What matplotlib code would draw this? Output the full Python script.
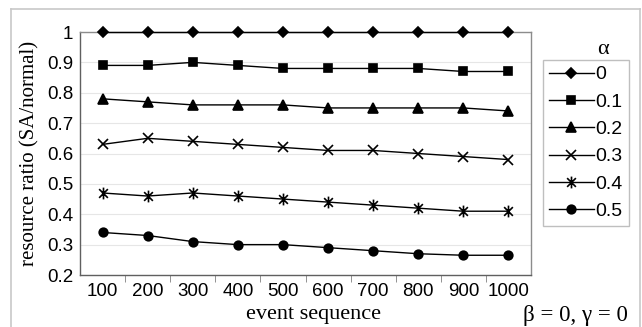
import matplotlib
matplotlib.use("Agg")
import matplotlib.pyplot as plt
from matplotlib.path import Path
from matplotlib.lines import Line2D
import numpy as np

categories = ["100", "200", "300", "400", "500", "600", "700", "800", "900", "1000"]
alpha_labels = ["0", "0.1", "0.2", "0.3", "0.4", "0.5"]
s0 = [1, 1, 1, 1, 1, 1, 1, 1, 1, 1]
s01 = [0.89, 0.89, 0.90, 0.89, 0.88, 0.88, 0.88, 0.88, 0.87, 0.87]
s02 = [0.78, 0.77, 0.76, 0.76, 0.76, 0.75, 0.75, 0.75, 0.75, 0.74]
s03 = [0.63, 0.65, 0.64, 0.63, 0.62, 0.61, 0.61, 0.60, 0.59, 0.58]
s04 = [0.47, 0.46, 0.47, 0.46, 0.45, 0.44, 0.43, 0.42, 0.41, 0.41]
s05 = [0.34, 0.33, 0.31, 0.30, 0.30, 0.29, 0.28, 0.27, 0.265, 0.265]
series = [s0, s01, s02, s03, s04, s05]

star = Path([(-1, -1), (1, 1), (-1, 1), (1, -1), (0, -1.35), (0, 1.35)],
            [Path.MOVETO, Path.LINETO, Path.MOVETO, Path.LINETO, Path.MOVETO, Path.LINETO])
markers = ["D", "s", "^", "x", star, "o"]
msizes = [5.5, 6.2, 7, 6.5, 8.5, 6.2]

fig = plt.figure(figsize=(6.42, 3.27), dpi=100)
ax = fig.add_axes([80/642, 1-275/327, (531-80)/642, (275-32)/327])

x = np.arange(len(categories))
handles = []
for vals, m, ms, lab in zip(series, markers, msizes, alpha_labels):
    h, = ax.plot(x, vals, color="black", lw=1.0, marker=m, markersize=ms,
                 markerfacecolor="black", markeredgecolor="black", markeredgewidth=1.2,
                 label=lab, clip_on=False, zorder=3)
    handles.append(h)

ax.set_xlim(-0.5, len(categories) - 0.5)
ax.set_ylim(0.2, 1.0)
ax.set_yticks(np.arange(0.2, 1.01, 0.1))
ax.set_yticklabels(["0.2", "0.3", "0.4", "0.5", "0.6", "0.7", "0.8", "0.9", "1"])
ax.set_xticks(x)
ax.set_xticklabels(categories)
ax.set_xticks(np.arange(0.5, len(categories) - 0.5, 1), minor=True)
ax.tick_params(axis="x", which="major", length=0, pad=6)
ax.tick_params(axis="x", which="minor", length=5, color="#808080", direction="out")
ax.tick_params(axis="y", length=0, pad=5)
for lbl in ax.get_xticklabels() + ax.get_yticklabels():
    lbl.set_fontfamily("Liberation Sans")
    lbl.set_fontsize(13.5)
ax.grid(axis="y", color="#e6e6e6", lw=0.8)
ax.set_axisbelow(True)
for sp in ax.spines.values():
    sp.set_color("#8c8c8c")
    sp.set_linewidth(1.0)
    sp.set_zorder(1)
ax.spines["left"].set_color("#606060")
ax.spines["bottom"].set_color("#606060")

ax.set_ylabel("resource ratio (SA/normal)", fontfamily="Liberation Serif", fontsize=15, labelpad=5)
fig.text(314/642, 1-315/327, "event sequence", fontfamily="Liberation Serif", fontsize=16,
         ha="center", va="center")
fig.text(575/642, 1-315/327, "β = 0, γ = 0", fontfamily="Liberation Serif", fontsize=16.5,
         ha="center", va="center")

leg = fig.legend(handles=handles, labels=alpha_labels, loc="upper left",
                 bbox_to_anchor=(543/642, 1-60/327), frameon=True, fancybox=False,
                 prop={"family": "Liberation Sans", "size": 14}, handlelength=2.3,
                 handletextpad=0.1, labelspacing=0.5, borderpad=0.3, borderaxespad=0)
leg.get_frame().set_edgecolor("#b0b0b0")
leg.get_frame().set_linewidth(1.0)
fig.text(603/642, 1-50/327, "α", fontfamily="Liberation Serif", fontsize=16,
         ha="center", va="center")

# outer frame
frame_c = "#c8c8c8"
fig.add_artist(Line2D([11/642, 11/642], [0, 1-9/327], color=frame_c, lw=1.2, transform=fig.transFigure))
fig.add_artist(Line2D([11/642, 640/642], [1-9/327, 1-9/327], color=frame_c, lw=1.2, transform=fig.transFigure))
fig.add_artist(Line2D([640/642, 640/642], [0, 1-9/327], color=frame_c, lw=1.2, transform=fig.transFigure))

fig.savefig("out.png", dpi=100)
